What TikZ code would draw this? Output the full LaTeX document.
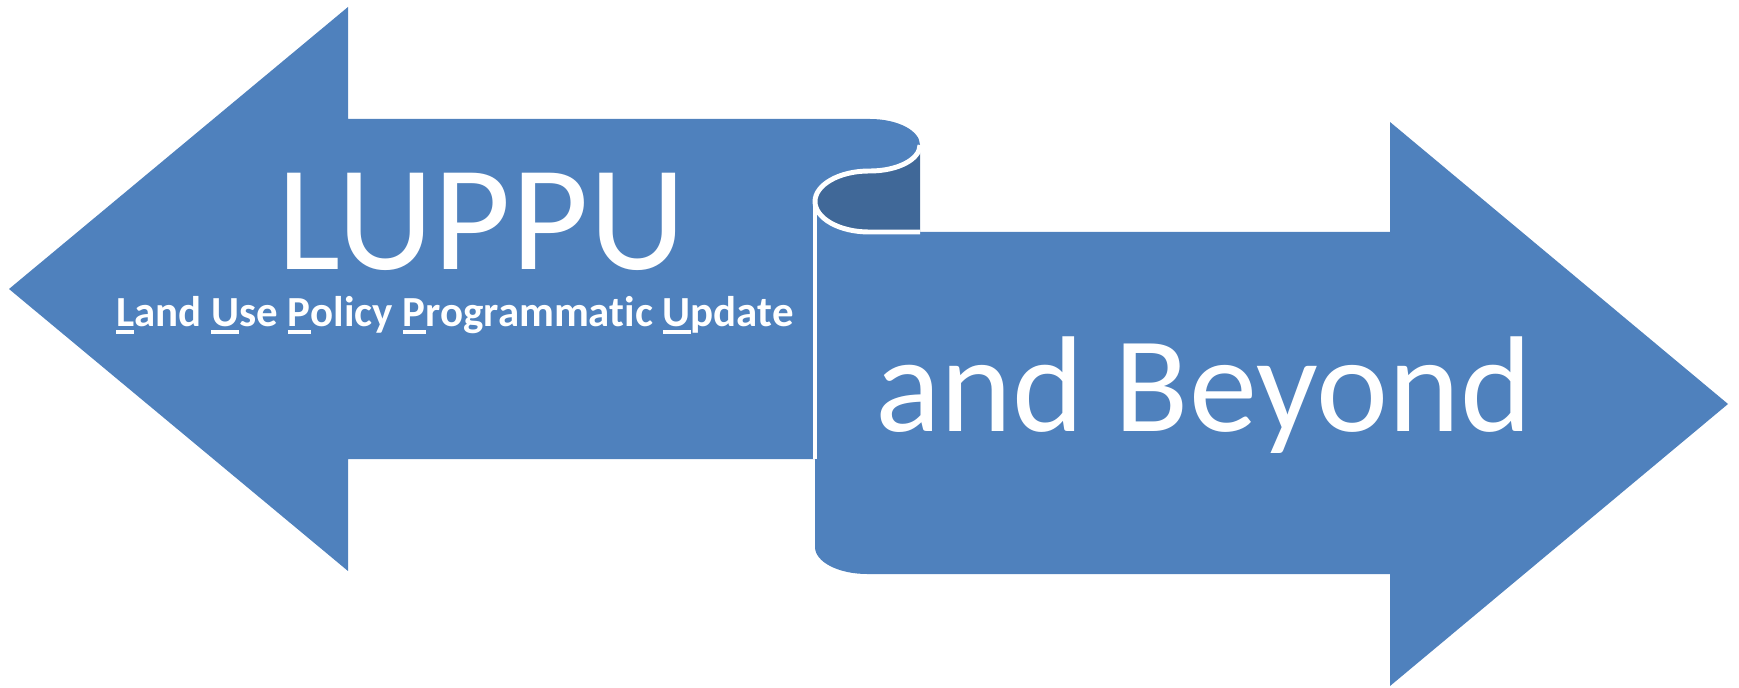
\documentclass[tikz,border=0pt]{standalone}
\usepackage{fontspec}
\setmainfont{Carlito}[Ligatures=NoCommon]
\definecolor{mainblue}{HTML}{4F81BD}
\definecolor{darkblue}{HTML}{406898}
\newcommand{\ulc}[1]{\leavevmode\setbox0\hbox{#1}\rlap{\rule[-0.16em]{\wd0}{0.08em}}\box0}
\begin{document}
\begin{tikzpicture}[x=0.01cm,y=-0.01cm,
  shapefill/.style={fill=mainblue,draw=none},
  seam/.style={draw=white,line width=1.4pt},
  txt/.style={text=white,inner sep=0pt,anchor=base}]
\useasboundingbox (0,0) rectangle (1739,688);
% left arrow
\path[shapefill] (9,289) -- (348,7) -- (348,119) -- (870,119)
  .. controls (897.6,119) and (920,130.6) .. (920,145)
  .. controls (920,159.4) and (897.6,171) .. (870,171) -- (869,171)
  .. controls (839.2,171) and (815,184.8) .. (815,201.5)
  -- (815,459) -- (348,459) -- (348,571) -- cycle;
% right band and arrow
\path[shapefill] (815,201.5) -- (815,547)
  .. controls (815,561.9) and (838.3,574) .. (867,574)
  -- (1390,574) -- (1390,686) -- (1728,404) -- (1390,122) -- (1390,232)
  -- (869,232) .. controls (839.2,232) and (815,218.3) .. (815,201.5) -- cycle;
% dark inside of the curl
\path[fill=darkblue] (920,145)
  .. controls (920,159.4) and (897.6,171) .. (870,171) -- (869,171)
  .. controls (839.2,171) and (815,184.8) .. (815,201.5)
  .. controls (815,218.3) and (839.2,232) .. (869,232) -- (920,232) -- cycle;
% white seams
\path[seam] (920,145)
  .. controls (920,159.4) and (897.6,171) .. (870,171) -- (869,171)
  .. controls (839.2,171) and (815,184.8) .. (815,201.5)
  .. controls (815,218.3) and (839.2,232) .. (869,232) -- (920,232);
\path[seam] (815,201.5) -- (815,459);
% texts
\node[txt,font=\fontsize{42.7}{44}\selectfont] (luppu) at (481.5,269.5) {LUPPU};
\node[txt,font=\bfseries\fontsize{12.2}{13}\selectfont] (sub) at (455,327)
  {\ulc{L}and \ulc{U}se \ulc{P}olicy \ulc{P}rogrammatic \ulc{U}pdate};
\node[txt,font=\fontsize{38.8}{40}\selectfont] (beyond) at (1203.5,431.5) {and Beyond};
\end{tikzpicture}
\end{document}
